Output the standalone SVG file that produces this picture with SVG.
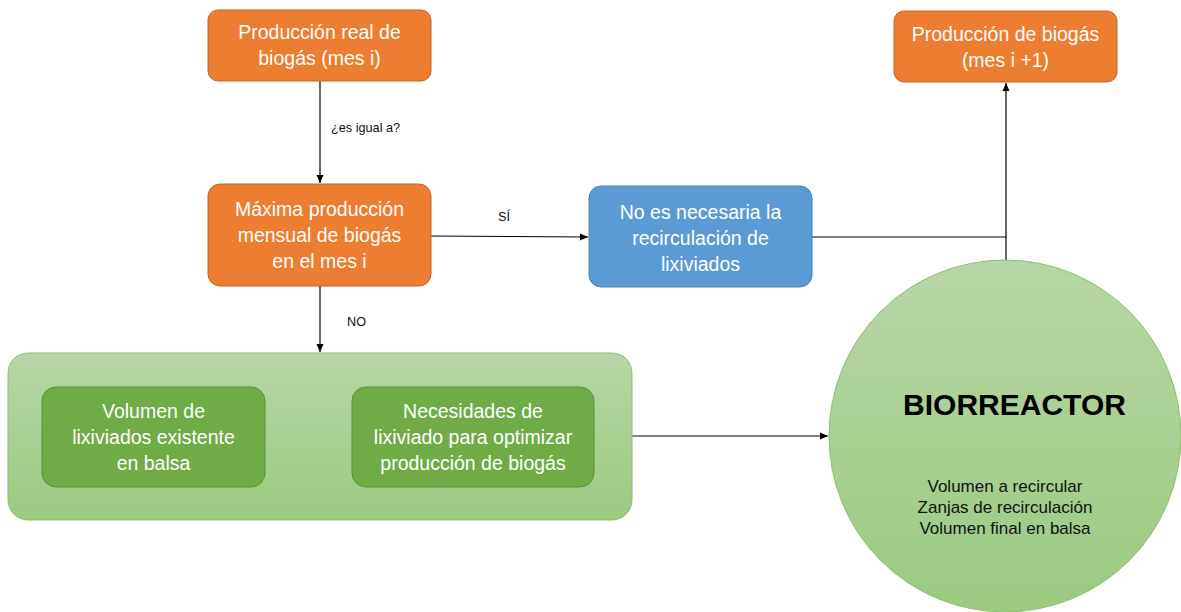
<svg xmlns="http://www.w3.org/2000/svg" width="1181" height="612" viewBox="0 0 1181 612">
<style>
.or{fill:#ED7D31;stroke:#C0652A;stroke-width:1}
.bl{fill:#5B9BD5;stroke:#4A84B8;stroke-width:1}
.dg{fill:#6FAC46;stroke:#5A9038;stroke-width:1}
.t{font-family:"Liberation Sans",Arial,sans-serif;font-size:19.5px;fill:#fff;text-anchor:middle;dominant-baseline:central}
.s{font-family:"Liberation Sans",Arial,sans-serif;font-size:12.7px;fill:#111;dominant-baseline:central}
.c{font-family:"Liberation Sans",Arial,sans-serif;font-size:17px;fill:#111;text-anchor:middle;dominant-baseline:central}
.ln{stroke:#000;stroke-width:1.2;fill:none}
</style>
<defs>
<marker id="ah" markerWidth="10" markerHeight="10" refX="9" refY="5" orient="auto" markerUnits="userSpaceOnUse"><path d="M1,1.5 L9,5 L1,8.5 Z" fill="#000"/></marker>
<linearGradient id="gg" x1="0" y1="0" x2="0" y2="1"><stop offset="0" stop-color="#B7D6A6"/><stop offset="1" stop-color="#9CCA80"/></linearGradient>
</defs>
<g id="connectors">
<line class="ln" x1="320" y1="81" x2="320" y2="183" marker-end="url(#ah)"/>
<text class="s" x="331" y="128">¿es igual a?</text>
<line class="ln" x1="431" y1="236" x2="588" y2="237" marker-end="url(#ah)"/>
<text class="s" x="498" y="217">SÍ</text>
<line class="ln" x1="320" y1="286" x2="320" y2="352" marker-end="url(#ah)"/>
<text class="s" x="347" y="322">NO</text>
<polyline class="ln" points="812,237 1006,237"/>
<line class="ln" x1="1006" y1="261" x2="1006" y2="83" marker-end="url(#ah)"/>
<line class="ln" x1="632" y1="436" x2="828" y2="436" marker-end="url(#ah)"/>
</g>
<g id="n1"><rect class="or" x="208" y="10" width="223" height="71" rx="10"/><text class="t" x="319.5" y="32">Producción real de</text><text class="t" x="319.5" y="58">biogás (mes i)</text></g>
<g id="n2"><rect class="or" x="208" y="184" width="223" height="102" rx="12"/><text class="t" x="319.5" y="209">Máxima producción</text><text class="t" x="319.5" y="235">mensual de biogás</text><text class="t" x="319.5" y="261">en el mes i</text></g>
<g id="n3"><rect class="bl" x="589" y="186" width="223" height="101" rx="12"/><text class="t" x="700.5" y="212">No es necesaria la</text><text class="t" x="700.5" y="238">recirculación de</text><text class="t" x="700.5" y="264">lixiviados</text></g>
<g id="n4"><rect class="or" x="894" y="11" width="223" height="71" rx="10"/><text class="t" x="1005.5" y="34">Producción de biogás</text><text class="t" x="1005.5" y="60">(mes i +1)</text></g>
<g id="n5"><rect x="8" y="353" width="624" height="167" rx="20" fill="url(#gg)" stroke="#8DBF6E" stroke-width="1"/></g>
<g id="n6"><rect class="dg" x="42" y="387" width="223" height="100" rx="14"/><text class="t" x="153.5" y="411">Volumen de</text><text class="t" x="153.5" y="437">lixiviados existente</text><text class="t" x="153.5" y="463">en balsa</text></g>
<g id="n7"><rect class="dg" x="352" y="387" width="242" height="100" rx="14"/><text class="t" x="473" y="411">Necesidades de</text><text class="t" x="473" y="437">lixiviado para optimizar</text><text class="t" x="473" y="463">producción de biogás</text></g>
<g id="n8"><circle cx="1005" cy="436" r="176" fill="url(#gg)" stroke="#8DBF6E" stroke-width="1"/>
<text x="1014.5" y="404" font-family="Liberation Sans,Arial,sans-serif" font-size="30" font-weight="bold" fill="#000" text-anchor="middle" dominant-baseline="central">BIORREACTOR</text>
<text class="c" x="1005" y="486">Volumen a recircular</text><text class="c" x="1005" y="507">Zanjas de recirculación</text><text class="c" x="1005" y="528">Volumen final en balsa</text></g>
</svg>
